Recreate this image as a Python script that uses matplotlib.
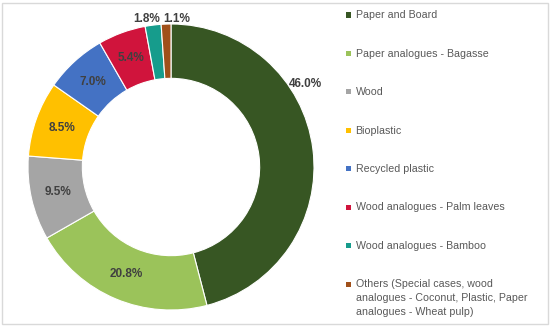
import numpy as np
import matplotlib.pyplot as plt
from matplotlib.patches import Rectangle

categories = [
    "Paper and Board",
    "Paper analogues - Bagasse",
    "Wood",
    "Bioplastic",
    "Recycled plastic",
    "Wood analogues - Palm leaves",
    "Wood analogues - Bamboo",
    "Others (Special cases, wood\nanalogues - Coconut, Plastic, Paper\nanalogues - Wheat pulp)",
]
shares = [46.0, 20.8, 9.5, 8.5, 7.0, 5.4, 1.8, 1.1]
colors = ["#375623", "#9BC35A", "#A5A5A5", "#FFC000", "#4472C4",
          "#D0143C", "#169C8C", "#A0501A"]

plt.rcParams['font.family'] = ['Liberation Sans', 'DejaVu Sans']

W, H = 550, 328
fig = plt.figure(figsize=(W / 100, H / 100), dpi=100)
fig.patch.set_facecolor("white")
fig.add_artist(Rectangle((2 / W, 4 / H), 546 / W, 321 / H,
                         transform=fig.transFigure, fill=False,
                         edgecolor="#D9D9D9", linewidth=1))

# donut centred around x=171, y=167 px, radius ~143 px
R = 143
cx, cy = 171, 167
ax = fig.add_axes([(cx - R) / W, (H - cy - R) / H, 2 * R / W, 2 * R / H])

width = 0.38
wedges, _ = ax.pie(shares, colors=colors, startangle=90, counterclock=False,
                   radius=1, wedgeprops=dict(width=width, edgecolor="white", linewidth=0.8))
ax.set_xlim(-1, 1)
ax.set_ylim(-1, 1)
ax.set_aspect("equal")
ax.axis("off")

total = sum(shares)
cum = 0
for i, s in enumerate(shares):
    mid = 90 - (cum + s / 2) / total * 360
    cum += s
    txt = f"{s:.1f}%"
    ang = np.deg2rad(mid)
    if i == 0:
        # best-fit label sits outside, upper right
        x, y = 0.94, 0.58
    elif s >= 3:
        r = 1 - width / 2
        x, y = r * np.cos(ang), r * np.sin(ang)
    else:
        # two thin slices at the top: labels pushed apart sideways
        x = 1.04 * np.cos(ang) + (-0.04 if i == 6 else 0.078)
        y = 1.035
    ax.text(x, y, txt, ha="center", va="center", fontsize=8.5,
            fontweight="bold", color="#404040", clip_on=False)

# legend, drawn by hand so the wrapped entry keeps its marker on the first line
row0, step = 15, 38.45
line_h = 14.5
for i, (lab, c) in enumerate(zip(categories, colors)):
    yc = row0 + i * step
    fig.add_artist(Rectangle((346 / W, (H - yc - 2.5) / H), 5 / W, 5 / H,
                             transform=fig.transFigure, facecolor=c,
                             edgecolor="none"))
    fig.text(355.5 / W, (H - yc + line_h / 2 - 2.5) / H, lab, ha="left", va="top",
             fontsize=7.7, color="#595959", linespacing=1.5)

fig.savefig("out.png", dpi=100)
